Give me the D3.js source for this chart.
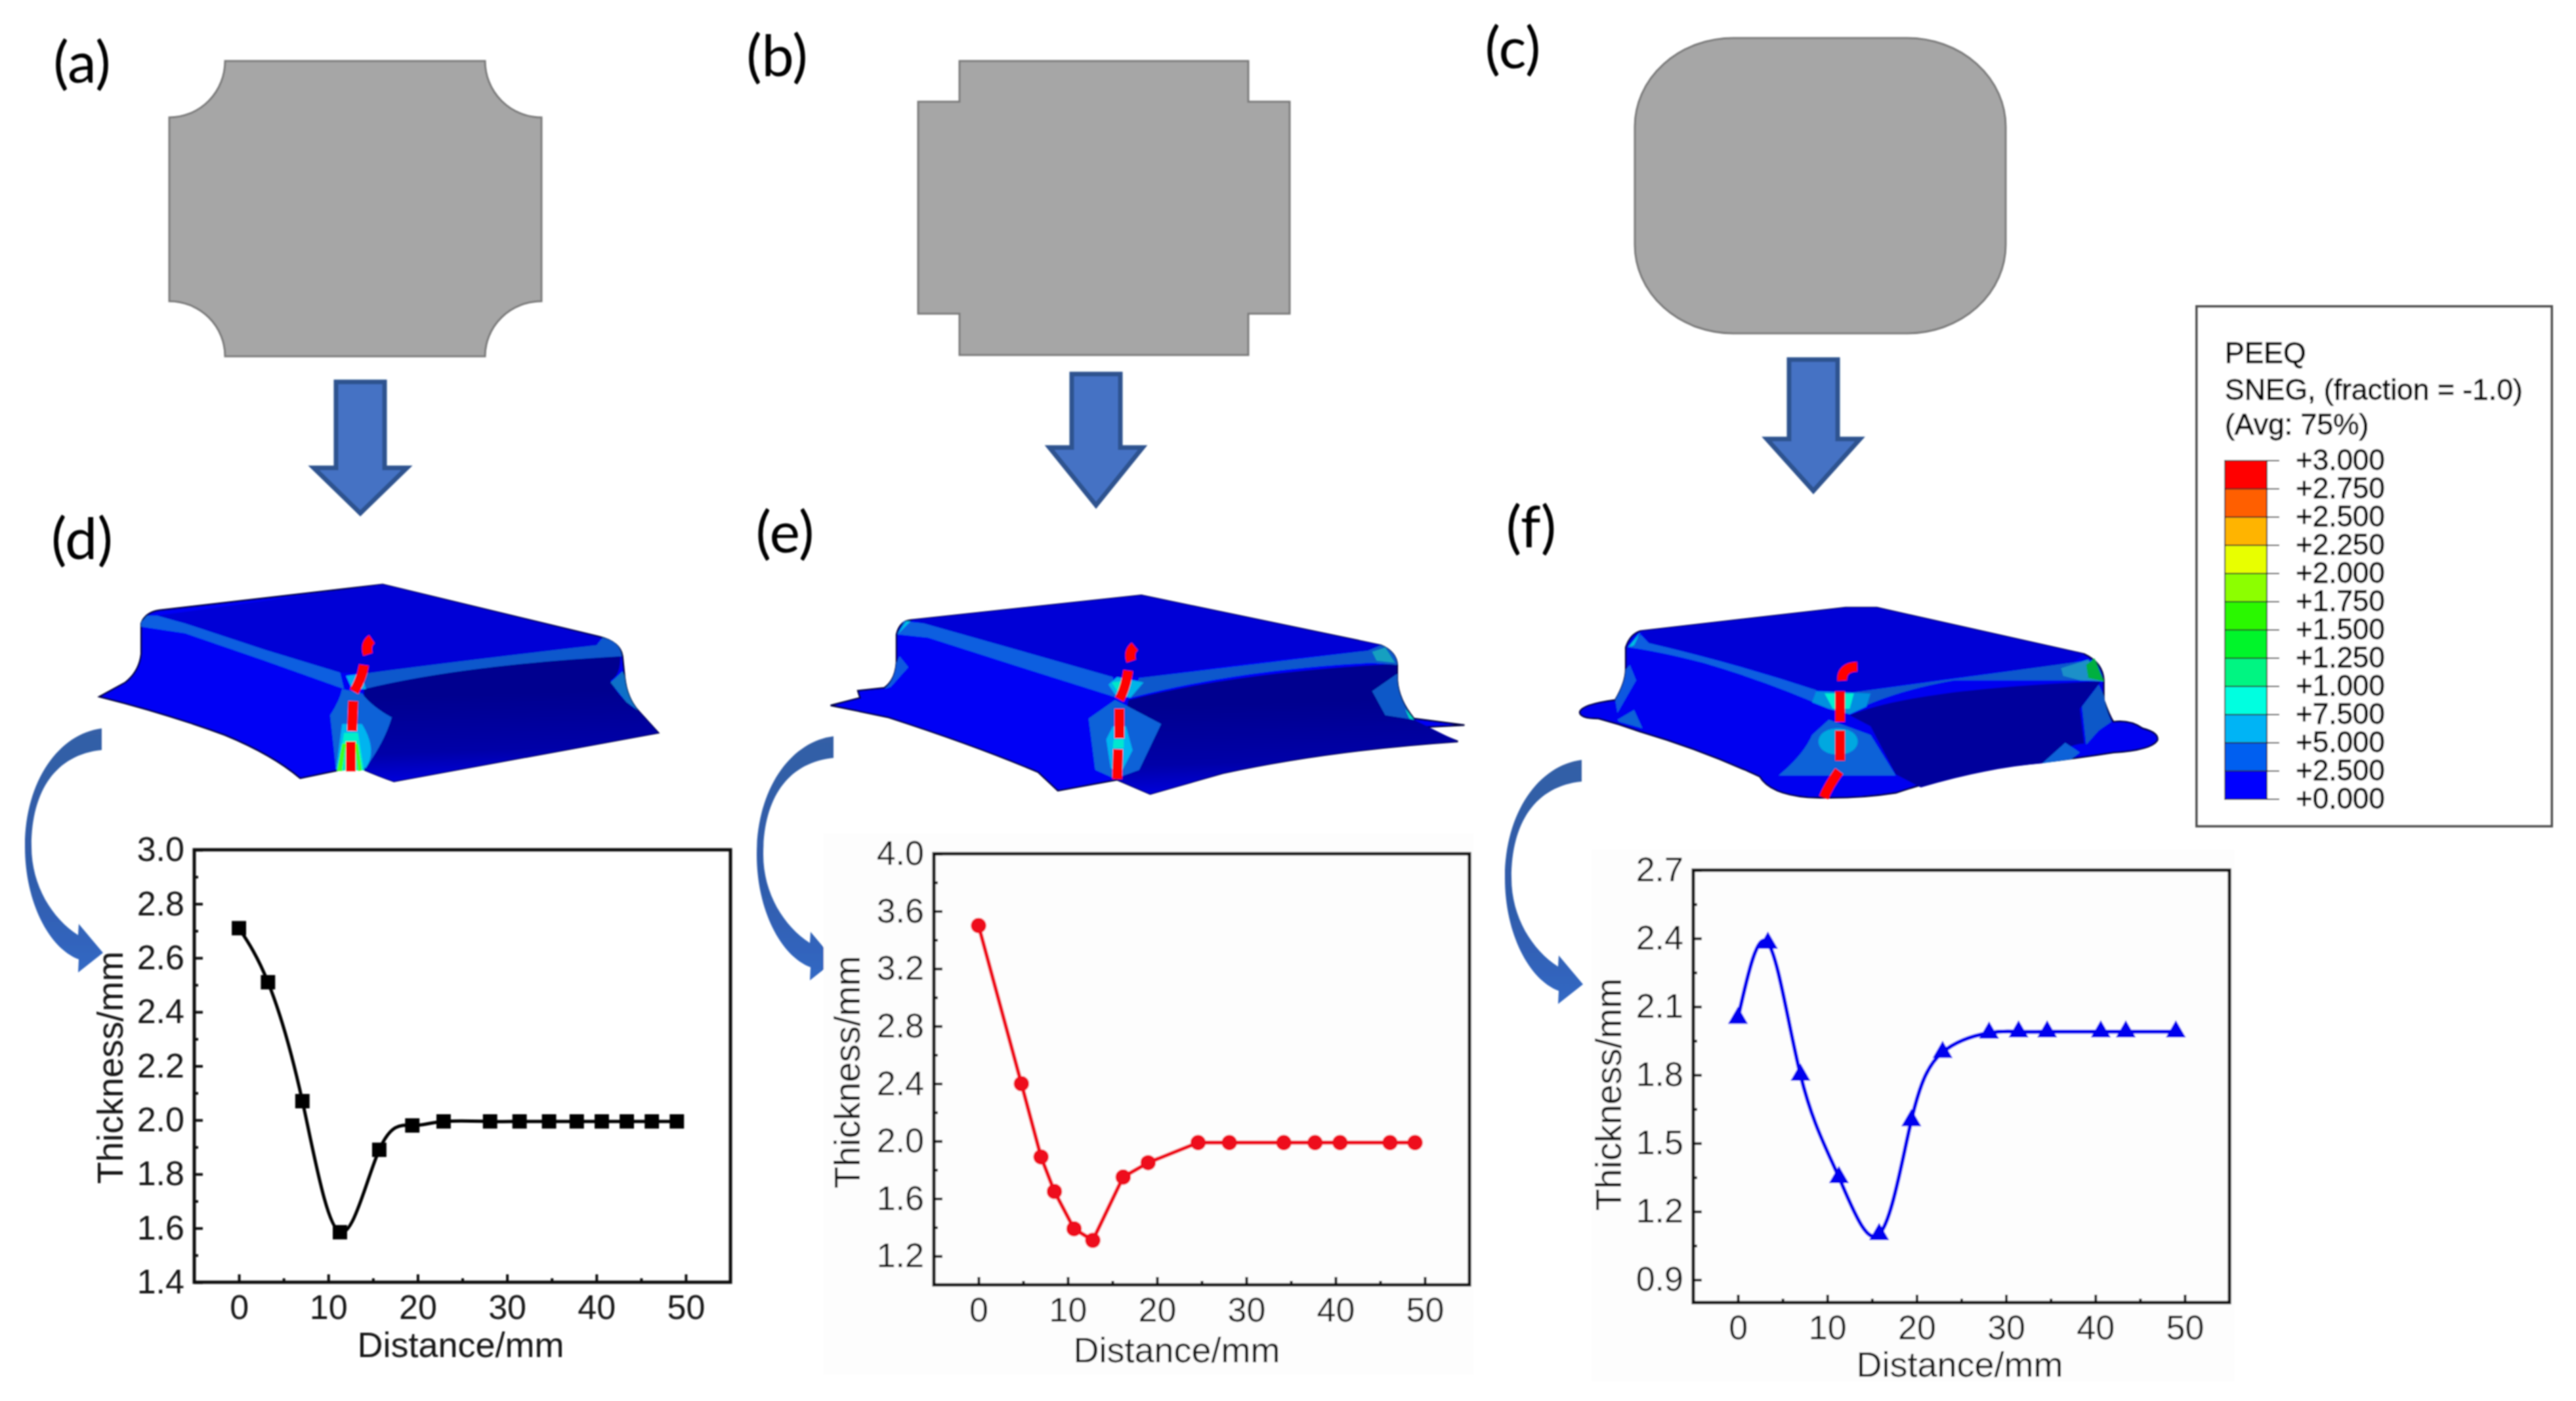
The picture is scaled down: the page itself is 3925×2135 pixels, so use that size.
<!DOCTYPE html>
<html>
<head>
<meta charset="utf-8">
<script src="https://cdn.jsdelivr.net/npm/d3@7"></script>
<style>
    html, body { margin: 0; background: #fff; }
    svg { display: block; font-family: "Liberation Sans", Arial, sans-serif; }
    .axis path { display: none; }
    .axis line { stroke: #111; stroke-width: 4; }
    .axis text { font-size: 52px; fill: #151515; font-family: "Liberation Sans", Arial, sans-serif; }
</style>
</head>
<body>
<svg id="fig" width="3925" height="2135"></svg>
<script>
// Thickness curves
const distanceD = [0, 3.25, 7.1, 11.3, 15.7, 19.4, 22.9, 28.1, 31.4, 34.7, 37.8, 40.6, 43.4, 46.2, 49];
const thicknessD = [2.71, 2.51, 2.07, 1.585, 1.89, 1.98, 1.995, 1.995, 1.995, 1.995, 1.995, 1.995, 1.995, 1.995, 1.995];
const yTicksD = [1.4, 1.6, 1.8, 2.0, 2.2, 2.4, 2.6, 2.8, 3.0];

const distanceE = [0, 4.8, 7, 8.5, 10.7, 12.8, 16.2, 19, 24.6, 28.1, 34.2, 37.7, 40.5, 46.1, 48.9];
const thicknessE = [3.5, 2.4, 1.89, 1.65, 1.39, 1.31, 1.75, 1.85, 1.99, 1.99, 1.99, 1.99, 1.99, 1.99, 1.99];
const yTicksE = [1.2, 1.6, 2.0, 2.4, 2.8, 3.2, 3.6, 4.0];

const distanceF = [0, 3.35, 7, 11.3, 15.8, 19.4, 22.9, 28.1, 31.4, 34.6, 40.6, 43.4, 49];
const thicknessF = [2.05, 2.38, 1.8, 1.35, 1.1, 1.6, 1.9, 1.985, 1.99, 1.99, 1.99, 1.99, 1.99];
const yTicksF = [0.9, 1.2, 1.5, 1.8, 2.1, 2.4, 2.7];

const xTicks = [0, 10, 20, 30, 40, 50];

// PEEQ legend
const legendLabels = ["+3.000", "+2.750", "+2.500", "+2.250", "+2.000", "+1.750", "+1.500",
    "+1.250", "+1.000", "+7.500", "+5.000", "+2.500", "+0.000"];
const legendColours = ["#ff0000", "#ff5f00", "#ffb400", "#e8ff00", "#8cff00", "#2cf800", "#00f52c",
    "#00f582", "#00ffe0", "#00b4f5", "#005ff0", "#0000ff"];

var svg = d3.select("#fig");
var defs = svg.append("defs");

// the source is a soft raster, everything gets a small blur
defs.append("filter").attr("id", "soft")
    .attr("filterUnits", "userSpaceOnUse")
    .attr("x", 0).attr("y", 0).attr("width", 3925).attr("height", 2135)
    .append("feGaussianBlur").attr("stdDeviation", 0.9);

var fade = defs.append("linearGradient").attr("id", "darkFace")
    .attr("x1", 0.4).attr("y1", 0.3).attr("x2", 0.45).attr("y2", 1);
fade.append("stop").attr("offset", "0%").attr("stop-color", "#00008f");
fade.append("stop").attr("offset", "65%").attr("stop-color", "#0000a8");
fade.append("stop").attr("offset", "100%").attr("stop-color", "#0000e0");

var bend = defs.append("linearGradient").attr("id", "bendArrow")
    .attr("x1", 0).attr("y1", 0).attr("x2", 0).attr("y2", 1);
bend.append("stop").attr("offset", "0%").attr("stop-color", "#345fa6");
bend.append("stop").attr("offset", "60%").attr("stop-color", "#2f5cab");
bend.append("stop").attr("offset", "100%").attr("stop-color", "#3468c4");

var root = svg.append("g").attr("filter", "url(#soft)");

// **** panel letters ****
const letters = [["(a)", 125, 126], ["(b)", 1184, 116], ["(c)", 2305, 104],
    ["(d)", 125, 852], ["(e)", 1196, 842], ["(f)", 2333, 834]];
root.selectAll(".letter").data(letters).enter().append("text")
    .attr("class", "letter")
    .attr("x", d => d[1]).attr("y", d => d[2])
    .attr("text-anchor", "middle")
    .style("font-family", "Lato, sans-serif")
    .style("font-size", "88px")
    .style("fill", "#000")
    .text(d => d[0]);

// **** blank outlines ****
var blanks = root.append("g").attr("fill", "#a6a6a6").attr("stroke", "#7c7c7c").attr("stroke-width", 3);
blanks.append("path").attr("d",
    "M343,93 L739,93 A86,86 0 0 0 825,179 L825,459 A86,84 0 0 0 739,543 L343,543 A85,84 0 0 0 258,459 L258,179 A85,86 0 0 0 343,93 Z");
blanks.append("path").attr("d",
    "M1462,93 L1902,93 L1902,155 L1965,155 L1965,478 L1902,478 L1902,541 L1462,541 L1462,478 L1399,478 L1399,155 L1462,155 Z");
blanks.append("rect").attr("x", 2491).attr("y", 58).attr("width", 565).attr("height", 450).attr("rx", 150).attr("ry", 135);

// **** straight arrows ****
function downArrow(cx, top, shoulder, tip) {
    const shaft = 37, head = 71;
    root.append("path")
        .attr("d", `M${cx - shaft},${top} H${cx + shaft} V${shoulder} H${cx + head} L${cx},${tip} L${cx - head},${shoulder} H${cx - shaft} Z`)
        .attr("fill", "#4472c4")
        .attr("stroke", "#2f528f")
        .attr("stroke-width", 7)
        .attr("stroke-linejoin", "miter");
}
downArrow(549, 582, 713, 782);
downArrow(1670, 570, 682, 770);
downArrow(2763, 548, 669, 748);

// **** curved arrows ****
function bentArrow(dx, dy) {
    root.append("path")
        .attr("transform", `translate(${dx},${dy})`)
        .attr("d", "M155,1110 C90,1118 38,1190 38,1290 C38,1375 75,1445 120,1462 L119,1482 L157,1452 L120,1408 L119,1425 C80,1400 48,1350 48,1290 C48,1205 85,1150 155,1143 Z")
        .attr("fill", "url(#bendArrow)");
}
bentArrow(0, 0);
bentArrow(1115, 12);
bentArrow(2255, 48);

// **** formed cups, outlines ****
function cup(x0, y0, kx, ky, layers, dashes) {
    var g = root.append("g").attr("transform", `translate(${x0},${y0}) scale(${1 / kx},${1 / ky})`);
    layers.forEach(function(l) {
        var p = g.append("path").attr("d", l[0]).attr("fill", l[1]);
        if (l[2]) {
            p.attr("stroke", l[2]).attr("stroke-width", 2.5).attr("vector-effect", "non-scaling-stroke");
        }
    });
    dashes.forEach(function(d) {
        g.append("path").attr("d", d).attr("fill", "none")
            .attr("stroke", "#ff0000").attr("stroke-width", 15)
            .attr("vector-effect", "non-scaling-stroke");
    });
}

const band = "#0a5fe0";

cup(100, 850, 1.65, 3, [
    ["M85,635 L150,570 Q185,520 190,440 L190,300 Q200,250 235,240 L797,122 L1340,360 Q1395,385 1400,450 L1405,540 Q1410,640 1440,700 L1490,800 L825,1022 Q790,1000 745,965 L690,970 L590,1008 Q520,900 400,810 Q250,710 85,635 Z", "#0000f5", "#000040"],
    ["M750,600 Q1000,490 1395,450 Q1395,540 1370,560 Q1390,640 1440,700 L1490,800 L825,1022 Q790,1000 745,965 Z", "url(#darkFace)"],
    ["M230,265 L797,122 L1345,365 L1335,400 Q1000,470 750,530 L690,525 L500,420 L300,300 Z", "#0000d6"],
    ["M205,265 L230,265 L300,300 L500,420 L690,525 L700,600 L500,470 L300,345 L190,315 L190,295 Z", band],
    ["M750,530 Q1000,470 1335,400 L1350,365 Q1395,385 1398,450 Q1000,490 750,600 Z", "#0b58cc"],
    ["M1400,520 L1370,570 L1410,660 L1440,700 Q1410,640 1405,540 Z", "#0a70c8"],
    ["M695,600 Q690,650 665,720 L680,970 L750,970 Q800,850 820,730 Q770,680 745,620 Z", "#0a62d8"],
    ["M695,760 L680,965 L755,960 Q785,880 745,760 Z", "#00b4f0"],
    ["M700,800 L685,972 L750,972 L735,800 Z", "#00f0c8"],
    ["M695,850 L682,975 L695,975 L705,850 Z M735,850 L745,972 L735,975 L728,850 Z", "#40ff20"],
    ["M705,540 L745,530 L755,600 L720,600 Z", "#00b0f0"]
], ["M770,372 Q752,395 760,442", "M750,490 Q745,550 725,612", "M723,655 L720,792", "M717,840 L717,976"]);

cup(1220, 850, 1.493, 3, [
    ["M68,675 L135,640 L130,608 L190,595 Q215,560 218,480 L218,350 Q225,290 250,285 L775,172 L1320,400 Q1355,430 1357,490 L1357,560 Q1360,650 1395,735 L1510,765 L1415,775 L1495,840 Q1200,880 960,985 L795,1080 L720,1015 L585,1065 L540,980 Q400,860 200,730 Q130,700 68,675 Z", "#0000f5", "#000040"],
    ["M745,650 Q1000,520 1355,485 L1357,560 Q1300,610 1310,640 Q1340,700 1395,740 L1495,840 Q1200,880 960,985 L795,1080 L720,1015 Z", "url(#darkFace)"],
    ["M250,285 L775,172 L1320,400 L1290,425 Q1000,480 790,545 L710,545 L280,300 Z", "#0000d6"],
    ["M235,290 L280,300 L710,545 L720,640 L500,500 L290,365 L220,350 Z", band],
    ["M770,550 L1290,425 L1320,400 Q1355,430 1357,490 L1300,480 Q1000,510 750,640 Z", "#0b58cc"],
    ["M1300,430 L1330,410 L1352,480 L1310,470 Z", "#12a0c0"],
    ["M240,290 L220,350 L250,290 Z", "#00c0e8"],
    ["M225,450 L245,500 L205,590 L190,600 Q215,560 218,480 Z", "#0a58e0"],
    ["M1357,530 L1300,610 L1330,720 L1395,740 Q1360,650 1357,560 Z", "#0a58c8"],
    ["M1375,690 L1395,740 L1385,735 Z", "#00e0c0"],
    ["M715,650 L655,735 L670,970 L715,1010 L770,970 L820,760 L745,680 Z", "#0a62d8"],
    ["M710,770 L695,830 L705,960 L725,1000 L755,880 L740,770 Z", "#00b4f0"],
    ["M712,830 L710,870 L735,870 L735,830 Z", "#00e8d0"],
    ["M700,580 L720,545 L780,570 L750,640 L715,625 Z", "#00b4e8"],
    ["M708,570 L745,560 L735,610 L720,610 Z", "#00e8c8"]
], ["M760,405 Q745,430 752,472", "M745,515 Q740,590 725,648", "M725,690 L725,825", "M722,875 L720,1012"]);

cup(2340, 880, 1.568, 3, [
    ["M105,615 Q110,580 190,560 Q215,480 215,420 L215,320 Q225,260 250,245 L740,138 L815,138 L1310,350 Q1355,390 1357,470 L1357,560 Q1370,630 1380,660 Q1420,650 1450,690 Q1490,710 1485,745 Q1470,790 1380,800 Q1250,840 1080,870 Q960,920 860,985 Q760,1015 650,1005 Q560,990 535,910 Q400,790 250,705 Q200,670 150,645 Q105,645 105,615 Z", "#0000f0", "#000040"],
    ["M750,630 Q900,510 1350,475 L1300,600 L1310,760 Q1270,760 1210,850 Q1080,870 920,960 L860,900 L800,680 Z", "#00009c"],
    ["M250,245 L740,138 L815,138 L1310,350 L1280,395 Q1000,450 760,525 L670,515 Q500,400 270,300 Z", "#0000d6"],
    ["M225,320 L250,260 L270,300 Q480,395 670,515 L700,600 Q560,480 400,390 Q300,340 225,320 Z", band],
    ["M760,525 L1300,385 L1350,470 L1000,470 Q850,520 750,620 Z", "#0b58cc"],
    ["M1255,415 L1320,375 L1357,475 L1300,470 L1260,450 Z", "#1a90c8"],
    ["M1315,400 L1335,370 L1357,475 L1320,460 Z", "#00b040"],
    ["M250,250 L220,320 L235,310 Z", "#00c0e0"],
    ["M225,400 L240,470 L195,620 L190,560 Q215,480 215,420 Z", "#0a58e0"],
    ["M235,605 L255,690 L200,660 L195,650 Z", "#0a62d8"],
    ["M1345,490 L1305,590 L1315,765 L1345,700 L1375,660 Q1360,590 1357,540 Z", "#0a58c8"],
    ["M1265,755 L1210,850 L1280,830 L1300,800 Z", "#0a62d8"],
    ["M700,650 L660,720 Q640,810 580,905 L860,905 L800,720 Z", "#0a62d8"],
    ["M722,690 C660,690 660,810 722,810 C785,810 785,690 722,690 Z", "#00a8e0"],
    ["M670,520 L800,530 L790,590 L750,625 L700,600 L660,570 Z", "#0090e0"],
    ["M690,530 L760,530 L750,600 L710,600 Z", "#00f0d0"]
], ["M768,408 Q730,410 732,472", "M727,520 L727,660", "M727,700 L727,838", "M725,885 Q700,950 688,1006"]);

// **** thickness charts ****
function drawChart(c) {
    var g = root.append("g");

    if (c.paper) {
        g.append("rect").attr("x", c.paper[0]).attr("y", c.paper[1])
            .attr("width", c.paper[2]).attr("height", c.paper[3]).attr("fill", "#fdfdfd");
    }

    var xScale = d3.scaleLinear().domain([-5, 55]).range([c.left, c.right]);
    var yScale = d3.scaleLinear().domain(c.yDomain).range([c.bottom, c.top]);

    var xMinor = d3.range(5, 55, 10);
    var yMinor = c.yTicks.map(d => d + c.yStep / 2).filter(d => d < c.yDomain[1]);

    g.append("g").attr("class", "x axis")
        .attr("transform", `translate(0,${c.bottom})`)
        .call(d3.axisBottom(xScale).tickValues(xTicks).tickSizeInner(-12).tickSizeOuter(0).tickPadding(c.xPad));
    g.append("g").attr("class", "x axis")
        .attr("transform", `translate(0,${c.bottom})`)
        .call(d3.axisBottom(xScale).tickValues(xMinor).tickSizeInner(-6).tickSizeOuter(0).tickFormat(""));
    g.append("g").attr("class", "y axis")
        .attr("transform", `translate(${c.left},0)`)
        .call(d3.axisLeft(yScale).tickValues(c.yTicks).tickSizeInner(-13).tickSizeOuter(0).tickPadding(15).tickFormat(d3.format(".1f")));
    g.append("g").attr("class", "y axis")
        .attr("transform", `translate(${c.left},0)`)
        .call(d3.axisLeft(yScale).tickValues(yMinor).tickSizeInner(-6).tickSizeOuter(0).tickFormat(""));

    g.append("rect")
        .attr("x", c.left).attr("y", c.top)
        .attr("width", c.right - c.left).attr("height", c.bottom - c.top)
        .attr("fill", "none").attr("stroke", "#111").attr("stroke-width", 5);

    var pts = c.xs.map((d, i) => [d, c.ys[i]]);
    var line = d3.line().x(d => xScale(d[0])).y(d => yScale(d[1])).curve(c.curve);

    g.append("path").attr("d", line(pts))
        .attr("fill", "none").attr("stroke", c.colour).attr("stroke-width", c.lineWidth);

    g.selectAll(".mark").data(pts).enter().append("path")
        .attr("class", "mark")
        .attr("d", d3.symbol().type(c.symbol).size(c.symbolSize))
        .attr("transform", d => `translate(${xScale(d[0])},${yScale(d[1])})`)
        .attr("fill", c.colour);

    g.append("text")
        .attr("x", c.xLabelX).attr("y", c.xLabelY)
        .attr("text-anchor", "middle")
        .style("font-size", "54px").style("fill", "#151515")
        .text("Distance/mm");

    g.append("text")
        .attr("transform", `translate(${c.yLabelX},${c.yLabelY}) rotate(-90)`)
        .attr("text-anchor", "middle")
        .style("font-size", "55px").style("fill", "#151515")
        .text("Thickness/mm");
}

drawChart({
    left: 296, right: 1113, top: 1295, bottom: 1954,
    yDomain: [1.4, 3.0], yTicks: yTicksD, yStep: 0.2,
    xs: distanceD, ys: thicknessD,
    colour: "#000", lineWidth: 5, curve: d3.curveNatural,
    symbol: d3.symbolSquare, symbolSize: 480,
    xPad: 19, xLabelX: 702, xLabelY: 2068, yLabelX: 187, yLabelY: 1627
});

drawChart({
    left: 1423, right: 2239, top: 1301, bottom: 1958,
    yDomain: [1.0, 4.0], yTicks: yTicksE, yStep: 0.4,
    xs: distanceE, ys: thicknessE,
    colour: "#ee0a1e", lineWidth: 6, curve: d3.curveLinear,
    symbol: d3.symbolCircle, symbolSize: 430,
    xPad: 19, xLabelX: 1793, xLabelY: 2076, yLabelX: 1310, yLabelY: 1634,
    paper: [1255, 1270, 990, 825]
});

drawChart({
    left: 2580, right: 3397, top: 1326, bottom: 1985,
    yDomain: [0.8, 2.7], yTicks: yTicksF, yStep: 0.3,
    xs: distanceF, ys: thicknessF,
    colour: "#0000ee", lineWidth: 6, curve: d3.curveNatural,
    symbol: d3.symbolTriangle, symbolSize: 400,
    xPad: 19, xLabelX: 2986, xLabelY: 2098, yLabelX: 2470, yLabelY: 1668,
    paper: [2425, 1295, 980, 810]
});

// **** PEEQ legend ****
var legend = root.append("g");

legend.append("rect")
    .attr("x", 3347).attr("y", 467).attr("width", 541).attr("height", 792)
    .attr("fill", "#fff").attr("stroke", "#555").attr("stroke-width", 4);

var titles = [["PEEQ", 553], ["SNEG, (fraction = -1.0)", 609], ["(Avg: 75%)", 662]];
legend.selectAll(".legendTitle").data(titles).enter().append("text")
    .attr("class", "legendTitle")
    .attr("x", 3390).attr("y", d => d[1])
    .style("font-size", "44.5px").style("fill", "#000")
    .style("stroke", "#000").style("stroke-width", 0.8)
    .text(d => d[0]);

var legendScale = d3.scalePoint().domain(d3.range(legendLabels.length)).range([702, 1218]);

legend.selectAll(".cell").data(legendColours).enter().append("rect")
    .attr("class", "cell")
    .attr("x", 3390).attr("width", 64)
    .attr("y", (d, i) => legendScale(i))
    .attr("height", (d, i) => legendScale(i + 1) - legendScale(i))
    .attr("fill", d => d)
    .attr("stroke", "#222").attr("stroke-width", 2);

legend.selectAll(".legendTick").data(legendLabels).enter().append("line")
    .attr("class", "legendTick")
    .attr("x1", 3454).attr("x2", 3473)
    .attr("y1", (d, i) => legendScale(i)).attr("y2", (d, i) => legendScale(i))
    .attr("stroke", "#222").attr("stroke-width", 2);

legend.selectAll(".legendLabel").data(legendLabels).enter().append("text")
    .attr("class", "legendLabel")
    .attr("x", 3498)
    .attr("y", (d, i) => legendScale(i) + 14)
    .style("font-size", "44px").style("fill", "#000")
    .style("stroke", "#000").style("stroke-width", 0.8)
    .text(d => d);
</script>
</body>
</html>
